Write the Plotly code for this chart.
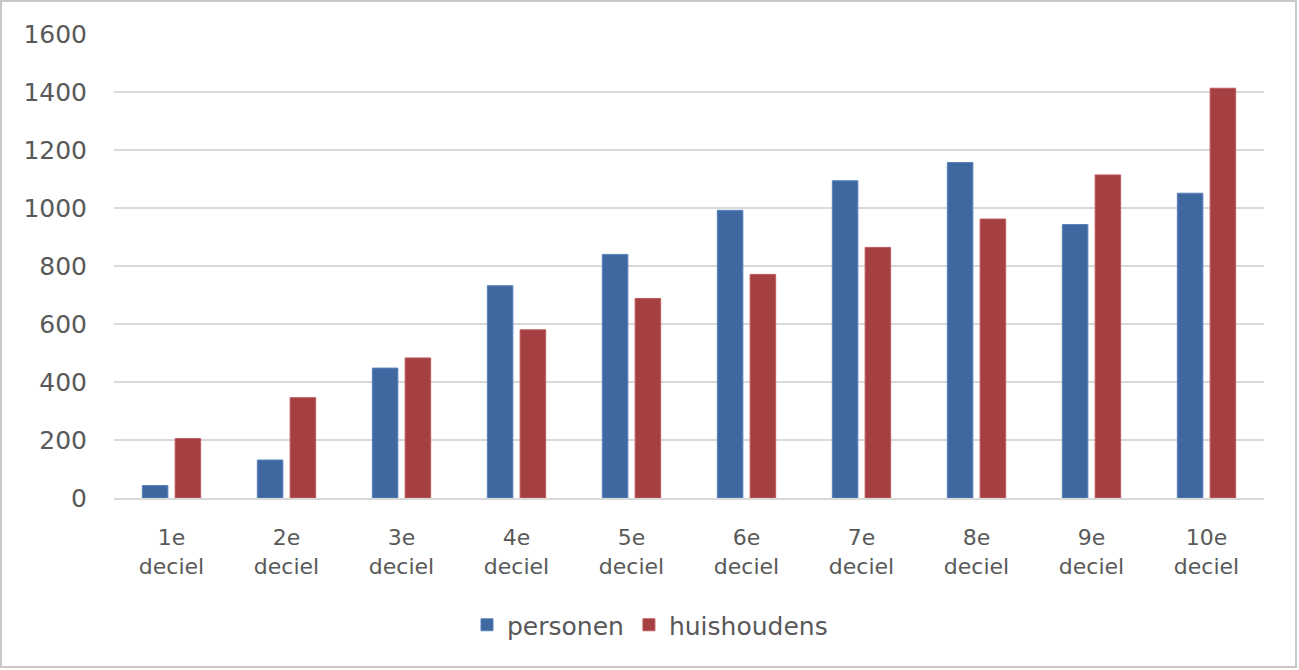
import plotly.graph_objects as go

categories = ["1e<br>deciel", "2e<br>deciel", "3e<br>deciel", "4e<br>deciel", "5e<br>deciel",
              "6e<br>deciel", "7e<br>deciel", "8e<br>deciel", "9e<br>deciel", "10e<br>deciel"]
personen = [43, 131, 448, 732, 840, 992, 1094, 1157, 943, 1051]
huishoudens = [205, 346, 483, 580, 688, 771, 864, 962, 1114, 1413]
y_ticks = [0, 200, 400, 600, 800, 1000, 1200, 1400, 1600]

font_family = "DejaVu Sans, Verdana, sans-serif"
text_color = "#595959"

W, H = 1299, 670
L, R, T, B = 114, 35, 34, 172
PW, PH = W - L - R, H - T - B

fig = go.Figure()
fig.add_trace(go.Bar(name="personen", x=categories, y=personen,
                     marker=dict(color="#3F68A0", line=dict(color="#5A82BC", width=1))))
fig.add_trace(go.Bar(name="huishoudens", x=categories, y=huishoudens,
                     marker=dict(color="#A54042", line=dict(color="#C05A5C", width=1))))

fig.update_layout(
    width=W, height=H,
    margin=dict(l=L, r=R, t=T, b=B, autoexpand=False),
    paper_bgcolor="white", plot_bgcolor="white",
    barmode="group", bargap=0.43, bargroupgap=0.22,
    font=dict(family=font_family, size=21, color=text_color),
    showlegend=True,
    legend=dict(orientation="h", x=(650 - L) / PW, xanchor="center",
                y=-(625 - (T + PH)) / PH, yanchor="middle",
                font=dict(size=25, color=text_color),
                traceorder="normal"),
    xaxis=dict(showgrid=False, showline=True, linecolor="#d9d9d9", linewidth=2,
               ticks="", ticklabelstandoff=19, tickangle=0,
               tickfont=dict(size=22, color=text_color)),
    yaxis=dict(range=[0, 1600], tickvals=y_ticks, showgrid=True, gridcolor="#d9d9d9",
               gridwidth=2, zeroline=False, showline=False, ticks="",
               ticklabelstandoff=26,
               tickfont=dict(size=25, color=text_color)),
    shapes=[dict(type="rect", xref="paper", yref="paper",
                 x0=(1 - L) / PW, x1=(1296 - L) / PW,
                 y0=-(667 - (T + PH)) / PH, y1=((T + PH) - 1) / PH,
                 line=dict(color="#c8c8c8", width=2), fillcolor="rgba(0,0,0,0)", layer="below")],
)

fig.write_html("out.html", config={"displayModeBar": False},
               post_script="document.body.style.margin='0';")
